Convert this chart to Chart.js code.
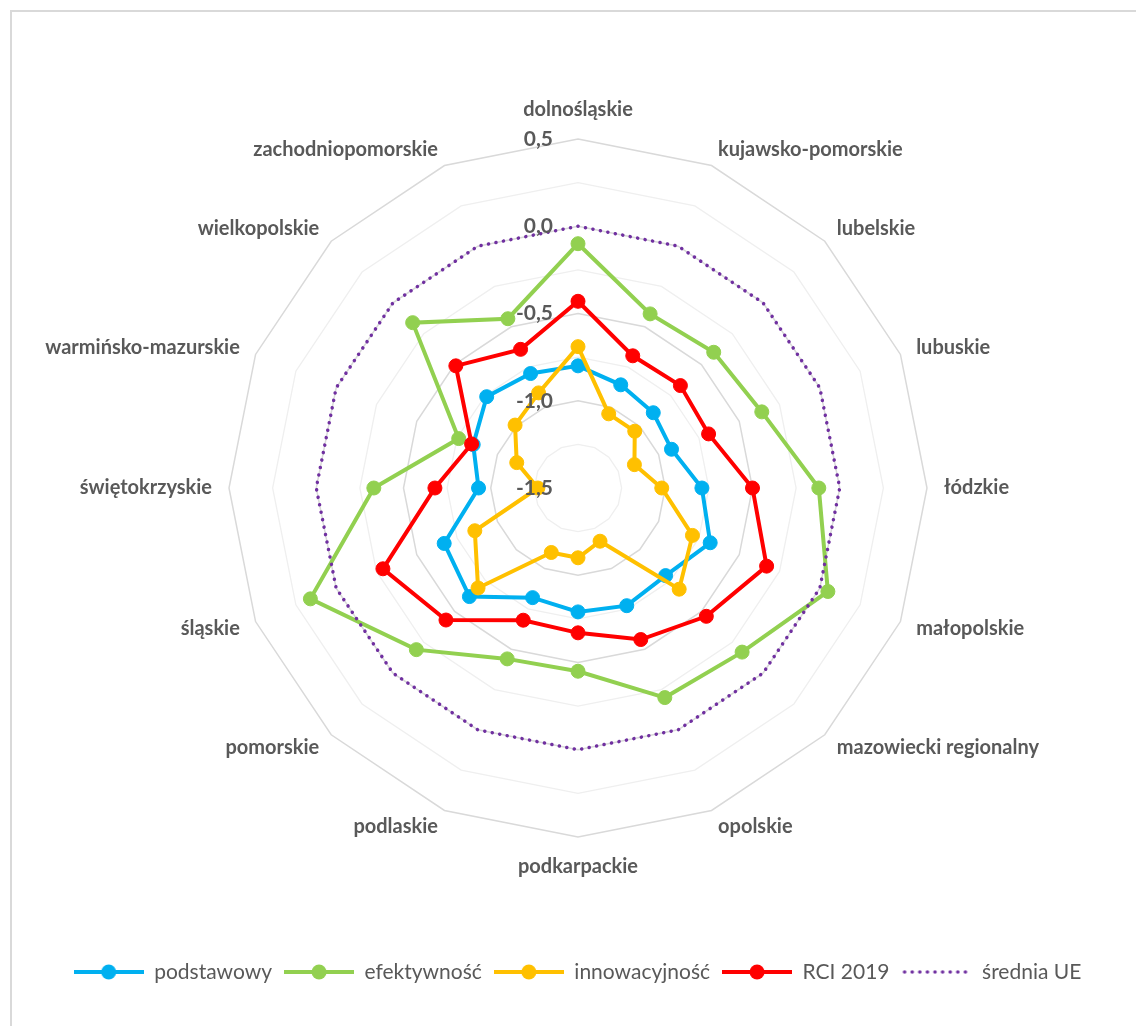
<!DOCTYPE html>
<html lang="pl">
<head>
<meta charset="utf-8">
<title>RCI 2019 - województwa</title>
<script src="https://cdn.jsdelivr.net/npm/chart.js@4.4.1/dist/chart.umd.min.js"></script>
<style>
  html, body { margin: 0; padding: 0; background: #fff; overflow: hidden; }
  #ramka { position: absolute; left: 10px; top: 10px; width: 1200px; height: 1100px;
           border-left: 2px solid #d9d9d9; border-top: 2px solid #d9d9d9; }
  #box { position: absolute; left: 0; top: 0; width: 1136px; height: 1026px; }
</style>
</head>
<body>
<div id="ramka"></div>
<div id="box"><canvas id="graph_rci"></canvas></div>
<script>
/*------------------------------*/
/*        DANE WYKRESU          */
/*------------------------------*/
var regiony = ['dolnośląskie', 'kujawsko-pomorskie', 'lubelskie', 'lubuskie', 'łódzkie', 'małopolskie',
  'mazowiecki regionalny', 'opolskie', 'podkarpackie', 'podlaskie', 'pomorskie', 'śląskie',
  'świętokrzyskie', 'warmińsko-mazurskie', 'wielkopolskie', 'zachodniopomorskie']

var podstawowy    = [-0.80, -0.86, -0.89, -0.92, -0.79, -0.68, -0.79, -0.77, -0.79, -0.82, -0.62, -0.67, -0.93, -0.85, -0.76, -0.79]
var efektywnosc   = [-0.10, -0.42, -0.40, -0.36, -0.12, 0.05, -0.17, -0.20, -0.45, -0.44, -0.19, 0.16, -0.33, -0.76, -0.16, -0.45]
var innowacyjnosc = [-0.69, -1.04, -1.04, -1.15, -1.02, -0.79, -0.68, -1.17, -1.10, -1.10, -0.69, -0.86, -1.27, -1.12, -0.99, -0.91]
var rci2019       = [-0.43, -0.68, -0.67, -0.69, -0.50, -0.33, -0.46, -0.56, -0.67, -0.68, -0.43, -0.29, -0.68, -0.84, -0.51, -0.64]
var sredniaUE     = [0, 0, 0, 0, 0, 0, 0, 0, 0, 0, 0, 0, 0, 0, 0, 0]

var tickValues = [0.5, 0.0, -0.5, -1.0, -1.5]

/*------------------------------*/
/*     ikonki do legendy        */
/*------------------------------*/
function znacznik(kolor, kropki) {
  var c = document.createElement('canvas')
  c.width = 70
  c.height = 18
  var g = c.getContext('2d')
  g.strokeStyle = kolor
  g.fillStyle = kolor
  if (kropki) {
    g.lineWidth = 3.5
    g.lineCap = 'round'
    g.setLineDash([0.1, 7.5])
    g.beginPath(); g.moveTo(3, 9); g.lineTo(68, 9); g.stroke()
  } else {
    g.lineWidth = 4
    g.beginPath(); g.moveTo(0, 9); g.lineTo(70, 9); g.stroke()
    g.beginPath(); g.arc(35, 9, 7.5, 0, 2 * Math.PI); g.fill()
  }
  return c
}

function seria(label, dane, kolor, kolejnosc) {
  return {
    label: label,
    data: dane,
    borderColor: kolor,
    backgroundColor: kolor,
    pointBackgroundColor: kolor,
    pointBorderColor: kolor,
    borderWidth: 4,
    pointRadius: 7,
    pointHoverRadius: 7,
    pointBorderWidth: 1,
    fill: false,
    order: kolejnosc,
    legendIcon: znacznik(kolor, false)
  }
}

var srednia = {
  label: 'średnia UE',
  data: sredniaUE,
  borderColor: '#7030A0',
  borderWidth: 3.5,
  borderDash: [0.1, 7.5],
  borderCapStyle: 'round',
  pointRadius: 0,
  pointHoverRadius: 0,
  fill: false,
  order: 1,
  legendIcon: znacznik('#7030A0', true)
}

/* etykiety osi (0,5 ... -1,5) rysowane nad seriami, jak w Excelu */
var etykietyOsi = {
  id: 'etykietyOsi',
  afterDatasetsDraw: function(chart) {
    var skala = chart.scales.r
    var ctx = chart.ctx
    ctx.save()
    ctx.font = 'bold 21px Lato'
    ctx.fillStyle = '#595959'
    ctx.textAlign = 'right'
    ctx.textBaseline = 'middle'
    tickValues.forEach(function(v) {
      var y = skala.yCenter - skala.getDistanceFromCenterForValue(v)
      ctx.fillText(v.toFixed(1).replace('.', ','), skala.xCenter - 25, y)
    })
    ctx.restore()
  }
}

var ctx_rci = document.getElementById('graph_rci').getContext('2d')

var config_rci = {
  type: 'radar',
  data: {
    labels: regiony,
    datasets: [
      seria('podstawowy', podstawowy, '#00B0F0', 5),
      seria('efektywność', efektywnosc, '#92D050', 4),
      seria('innowacyjność', innowacyjnosc, '#FFC000', 3),
      seria('RCI 2019', rci2019, '#FF0000', 2),
      srednia
    ]
  },
  options: {
    responsive: true,
    maintainAspectRatio: false,
    animation: false,
    layout: { padding: { top: 109, bottom: 33.5, left: 19, right: 0 } },
    scales: {
      r: {
        min: -1.5,
        max: 0.5,
        ticks: { stepSize: 0.25, display: false },
        angleLines: { display: false },
        grid: {
          circular: false,
          color: function(c) {
            var v = c.tick ? c.tick.value : 0
            return Math.abs(v * 2 - Math.round(v * 2)) < 1e-6 ? '#d9d9d9' : '#efefef'
          },
          lineWidth: function(c) {
            var v = c.tick ? c.tick.value : 0
            return Math.abs(v * 2 - Math.round(v * 2)) < 1e-6 ? 1.5 : 1.3
          }
        },
        pointLabels: {
          // etykiety gora/dol dalej od wielokata, reszta wysrodkowana na punkcie
          padding: function(c) {
            return (c.index === 0 || c.index === 8) ? 29 : 17
          },
          color: '#595959',
          font: { family: 'Lato', size: 20, weight: 'bold', lineHeight: 0.05 }
        }
      }
    },
    plugins: {
      tooltip: { enabled: false },
      legend: {
        position: 'bottom',
        title: { display: true, text: '', font: { size: 10 }, padding: { top: 70.5, bottom: 0 } },
        labels: {
          usePointStyle: true,
          pointStyleWidth: 70,
          boxHeight: 16,
          padding: 12,
          color: '#595959',
          font: { family: 'Lato', size: 21 },
          generateLabels: function(chart) {
            return chart.data.datasets.map(function(ds, i) {
              return {
                text: ds.label,
                pointStyle: ds.legendIcon,
                fontColor: '#595959',
                fillStyle: 'transparent',
                strokeStyle: 'transparent',
                lineWidth: 0,
                hidden: false,
                datasetIndex: i
              }
            })
          }
        }
      }
    }
  },
  plugins: [etykietyOsi]
}

var graph_rci = new Chart(ctx_rci, config_rci)
/*------------------------------*/
</script>
</body>
</html>
